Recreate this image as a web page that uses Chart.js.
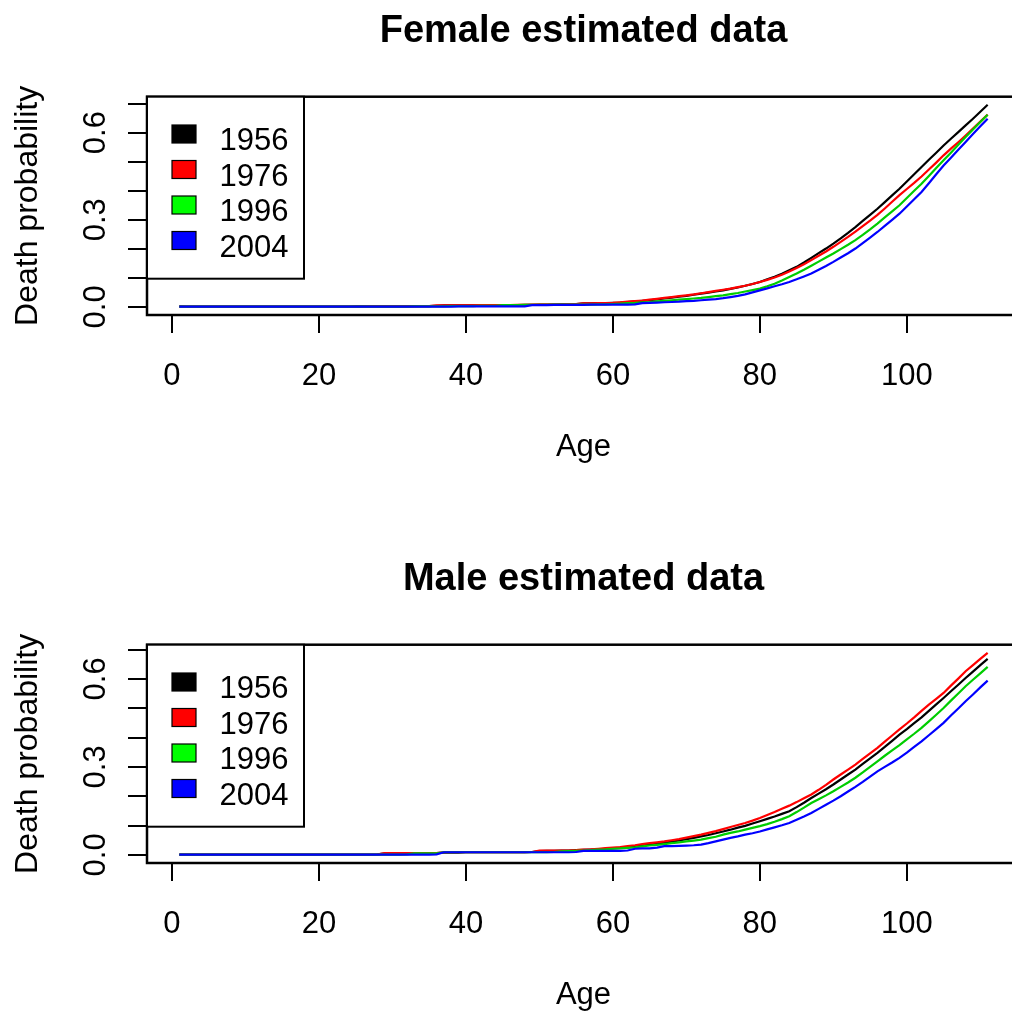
<!DOCTYPE html>
<html>
<head>
<meta charset="utf-8">
<title>Estimated death probabilities</title>
<script src="https://cdn.jsdelivr.net/npm/chart.js@4"></script>
<style>
  html, body { margin: 0; padding: 0; background: #fff; overflow: hidden; }
  #page { position: relative; width: 1012px; height: 1012px; overflow: hidden; }
  .panel { position: absolute; left: 0; width: 1022px; height: 470px; }
</style>
</head>
<body>
<div id="page">
  <div class="panel" style="top:0"><canvas id="female" width="1022" height="470"></canvas></div>
  <div class="panel" style="top:548px"><canvas id="male" width="1022" height="470"></canvas></div>
</div>
<script>
// years shown in each panel
const years = ['1956', '1976', '1996', '2004']

// death probability by age index 1..111 (ages 0..110)
const f1956 = [
  0.002,0.001,0.001,0.001,0.001,0.001,0.001,0.001,0.001,0.001,
  0.001,0.001,0.001,0.001,0.001,0.001,0.001,0.001,0.001,0.001,
  0.001,0.001,0.001,0.001,0.002,0.002,0.002,0.002,0.002,0.002,
  0.002,0.002,0.003,0.003,0.003,0.004,0.005,0.005,0.005,0.005,
  0.005,0.005,0.006,0.006,0.006,0.006,0.006,0.007,0.007,0.008,
  0.008,0.008,0.009,0.009,0.010,0.012,0.012,0.013,0.013,0.014,
  0.015,0.017,0.019,0.021,0.023,0.026,0.029,0.032,0.035,0.038,
  0.042,0.046,0.049,0.053,0.057,0.062,0.067,0.073,0.079,0.086,
  0.095,0.104,0.114,0.126,0.138,0.153,0.169,0.185,0.201,0.218,
  0.236,0.255,0.275,0.296,0.317,0.338,0.361,0.384,0.407,0.432,
  0.457,0.482,0.507,0.531,0.556,0.579,0.602,0.625,0.648,0.672,
  0.696
]
const f1976 = [
  0.001,0.001,0.001,0.001,0.001,0.001,0.001,0.001,0.001,0.001,
  0.001,0.001,0.001,0.001,0.001,0.001,0.001,0.001,0.001,0.001,
  0.001,0.001,0.001,0.001,0.001,0.001,0.002,0.002,0.002,0.002,
  0.002,0.002,0.002,0.003,0.003,0.005,0.005,0.005,0.005,0.005,
  0.005,0.006,0.006,0.006,0.006,0.006,0.007,0.007,0.008,0.008,
  0.008,0.009,0.009,0.010,0.010,0.012,0.012,0.013,0.013,0.014,
  0.016,0.018,0.020,0.022,0.025,0.028,0.031,0.034,0.037,0.040,
  0.043,0.047,0.051,0.055,0.059,0.063,0.068,0.073,0.079,0.086,
  0.093,0.101,0.111,0.122,0.134,0.147,0.161,0.176,0.191,0.207,
  0.224,0.241,0.259,0.278,0.297,0.317,0.339,0.362,0.385,0.406,
  0.427,0.449,0.473,0.497,0.522,0.545,0.567,0.590,0.614,0.638,
  0.662
]
const f1996 = [
  0.001,0.001,0.001,0.001,0.001,0.001,0.001,0.001,0.001,0.001,
  0.001,0.001,0.001,0.001,0.001,0.001,0.001,0.001,0.001,0.001,
  0.001,0.001,0.001,0.001,0.001,0.001,0.001,0.001,0.001,0.001,
  0.001,0.001,0.002,0.002,0.002,0.002,0.002,0.003,0.003,0.003,
  0.003,0.004,0.004,0.004,0.006,0.006,0.006,0.007,0.007,0.007,
  0.007,0.008,0.008,0.008,0.008,0.008,0.008,0.009,0.009,0.010,
  0.011,0.013,0.014,0.016,0.017,0.019,0.021,0.023,0.025,0.027,
  0.029,0.031,0.034,0.037,0.040,0.044,0.048,0.053,0.058,0.063,
  0.071,0.080,0.091,0.103,0.115,0.128,0.142,0.156,0.170,0.184,
  0.199,0.214,0.230,0.248,0.267,0.287,0.308,0.329,0.350,0.375,
  0.400,0.424,0.451,0.478,0.505,0.531,0.558,0.585,0.611,0.637,
  0.662
]
const f2004 = [
  0.001,0.001,0.001,0.001,0.001,0.001,0.001,0.001,0.001,0.001,
  0.001,0.001,0.001,0.001,0.001,0.001,0.001,0.001,0.001,0.001,
  0.001,0.001,0.001,0.001,0.001,0.001,0.001,0.001,0.001,0.001,
  0.001,0.001,0.001,0.001,0.001,0.001,0.001,0.001,0.002,0.002,
  0.002,0.002,0.002,0.002,0.002,0.002,0.002,0.002,0.006,0.006,
  0.006,0.007,0.007,0.007,0.007,0.007,0.008,0.008,0.008,0.008,
  0.008,0.008,0.009,0.013,0.014,0.015,0.016,0.017,0.018,0.020,
  0.021,0.023,0.025,0.027,0.030,0.034,0.038,0.043,0.050,0.057,
  0.064,0.071,0.078,0.086,0.095,0.105,0.115,0.128,0.141,0.155,
  0.170,0.185,0.201,0.220,0.239,0.258,0.279,0.300,0.321,0.346,
  0.371,0.396,0.426,0.457,0.487,0.514,0.541,0.568,0.595,0.622,
  0.648
]

const m1956 = [
  0.001,0.001,0.001,0.001,0.001,0.001,0.001,0.001,0.001,0.001,
  0.001,0.001,0.001,0.001,0.001,0.001,0.001,0.001,0.001,0.001,
  0.001,0.001,0.001,0.001,0.001,0.001,0.001,0.002,0.005,0.005,
  0.005,0.006,0.006,0.006,0.006,0.006,0.008,0.008,0.008,0.009,
  0.009,0.009,0.009,0.009,0.009,0.009,0.009,0.009,0.010,0.013,
  0.014,0.014,0.015,0.015,0.016,0.017,0.018,0.019,0.021,0.022,
  0.024,0.026,0.029,0.032,0.035,0.038,0.042,0.045,0.049,0.054,
  0.058,0.063,0.068,0.074,0.080,0.086,0.093,0.099,0.107,0.115,
  0.123,0.131,0.140,0.149,0.163,0.178,0.194,0.209,0.224,0.240,
  0.257,0.274,0.291,0.310,0.329,0.348,0.368,0.389,0.410,0.429,
  0.449,0.469,0.491,0.513,0.535,0.558,0.580,0.603,0.625,0.647,
  0.668
]
const m1976 = [
  0.001,0.001,0.001,0.001,0.001,0.001,0.001,0.001,0.001,0.001,
  0.001,0.001,0.001,0.001,0.001,0.001,0.001,0.001,0.001,0.001,
  0.001,0.001,0.001,0.001,0.001,0.001,0.001,0.002,0.006,0.006,
  0.006,0.006,0.006,0.006,0.006,0.006,0.009,0.009,0.009,0.009,
  0.009,0.009,0.009,0.009,0.009,0.009,0.009,0.009,0.010,0.015,
  0.015,0.015,0.015,0.015,0.016,0.018,0.019,0.021,0.023,0.025,
  0.027,0.030,0.033,0.037,0.040,0.043,0.046,0.050,0.054,0.059,
  0.064,0.069,0.075,0.081,0.088,0.095,0.102,0.109,0.117,0.126,
  0.136,0.146,0.157,0.168,0.180,0.193,0.206,0.222,0.239,0.257,
  0.274,0.291,0.308,0.327,0.346,0.365,0.386,0.407,0.428,0.448,
  0.469,0.491,0.512,0.532,0.552,0.577,0.601,0.626,0.647,0.668,
  0.689
]
const m1996 = [
  0.001,0.001,0.001,0.001,0.001,0.001,0.001,0.001,0.001,0.001,
  0.001,0.001,0.001,0.001,0.001,0.001,0.001,0.001,0.001,0.001,
  0.001,0.001,0.001,0.001,0.001,0.001,0.001,0.001,0.001,0.001,
  0.001,0.002,0.005,0.005,0.005,0.005,0.009,0.009,0.009,0.009,
  0.009,0.009,0.009,0.009,0.009,0.009,0.009,0.009,0.009,0.009,
  0.009,0.010,0.012,0.013,0.014,0.015,0.016,0.018,0.019,0.021,
  0.022,0.024,0.026,0.029,0.032,0.034,0.037,0.040,0.043,0.046,
  0.049,0.052,0.057,0.062,0.069,0.075,0.080,0.086,0.092,0.098,
  0.105,0.113,0.122,0.132,0.146,0.161,0.177,0.190,0.203,0.217,
  0.232,0.247,0.263,0.281,0.300,0.319,0.338,0.356,0.374,0.394,
  0.413,0.433,0.455,0.478,0.501,0.526,0.550,0.575,0.597,0.619,
  0.641
]
const m2004 = [
  0.001,0.001,0.001,0.001,0.001,0.001,0.001,0.001,0.001,0.001,
  0.001,0.001,0.001,0.001,0.001,0.001,0.001,0.001,0.001,0.001,
  0.001,0.001,0.001,0.001,0.001,0.001,0.001,0.001,0.001,0.001,
  0.001,0.001,0.001,0.001,0.001,0.002,0.009,0.009,0.009,0.009,
  0.009,0.009,0.009,0.009,0.009,0.009,0.009,0.009,0.009,0.009,
  0.009,0.009,0.009,0.009,0.010,0.014,0.014,0.014,0.014,0.014,
  0.014,0.015,0.021,0.022,0.022,0.025,0.030,0.030,0.031,0.032,
  0.033,0.035,0.040,0.046,0.052,0.058,0.063,0.069,0.074,0.080,
  0.087,0.094,0.101,0.109,0.120,0.131,0.143,0.157,0.171,0.185,
  0.200,0.216,0.232,0.249,0.267,0.285,0.300,0.315,0.331,0.349,
  0.368,0.387,0.408,0.429,0.450,0.475,0.499,0.524,0.547,0.571,
  0.594
]

// axis ticks
const xTicks = [0, 20, 40, 60, 80, 100]
const yTicks = [0, 0.1, 0.2, 0.3, 0.4, 0.5, 0.6, 0.7]
const yLabelled = [0, 0.3, 0.6]

const lineColors = ['#000000', '#FF0000', '#00CD00', '#0000FF']
const legendFill = ['#000000', '#FF0000', '#00FF00', '#0000FF']

const FAMILY = '"Liberation Sans", Arial, Helvetica, sans-serif'
const axisFont = { family: FAMILY, size: 31, lineHeight: 1.2 }

// plot frame around the chart area
const frameBox = {
  id: 'frameBox',
  afterDatasetsDraw(chart) {
    const { ctx, chartArea: a } = chart
    ctx.save()
    ctx.strokeStyle = '#000'
    ctx.lineWidth = 2.5
    ctx.strokeRect(a.left, a.top, a.right - a.left, a.bottom - a.top)
    ctx.restore()
  }
}

// boxed legend in the top-left corner of the plot
const boxLegend = {
  id: 'boxLegend',
  afterDraw(chart) {
    const { ctx, chartArea: a } = chart
    ctx.save()
    ctx.fillStyle = '#fff'
    ctx.fillRect(a.left, a.top, 157, 182)
    ctx.strokeStyle = '#000'
    ctx.lineWidth = 2
    ctx.strokeRect(a.left, a.top, 157, 182)
    ctx.font = '31px ' + FAMILY
    ctx.textBaseline = 'alphabetic'
    ctx.textAlign = 'left'
    chart.data.datasets.forEach((ds, i) => {
      const y0 = a.top + 28.3 + i * 35.5
      ctx.fillStyle = legendFill[i]
      ctx.fillRect(a.left + 25, y0, 24, 18)
      ctx.lineWidth = 1.2
      ctx.strokeRect(a.left + 25, y0, 24, 18)
      ctx.fillStyle = '#000'
      ctx.fillText(ds.label, a.left + 72.5, y0 + 25)
    })
    ctx.restore()
  }
}

function makePanel(id, title, series) {
  const n = series[0].length
  const idx = Array.from({ length: n }, (_, i) => i + 1)
  // same padding as R's default axis extension (4%)
  const top = Math.max(...series.map(s => Math.max(...s)))
  const yMin = -0.04 * top
  const yMax = 1.04 * top
  const xMin = 1 - 0.04 * (n - 1)
  const xMax = n + 0.04 * (n - 1)

  const datasets = series.map((s, i) => ({
    label: years[i],
    data: s.map((v, j) => ({ x: idx[j], y: v })),
    borderColor: lineColors[i],
    borderWidth: 2.2,
    pointRadius: 0,
    tension: 0,
    fill: false,
    order: series.length - i
  }))

  return new Chart(document.getElementById(id), {
    type: 'line',
    data: { datasets },
    plugins: [frameBox, boxLegend],
    options: {
      responsive: false,
      animation: false,
      layout: { padding: { left: 0, right: 2, top: 0, bottom: 0 } },
      scales: {
        x: {
          type: 'linear',
          min: xMin,
          max: xMax,
          afterBuildTicks: s => { s.ticks = xTicks.map(v => ({ value: v })) },
          afterFit: s => { s.height = 155 },
          border: { display: false },
          grid: { drawOnChartArea: false, tickLength: 18, color: '#000', lineWidth: 2 },
          ticks: { autoSkip: false, maxRotation: 0, padding: 24.5, color: '#000', font: axisFont,
                   callback: v => String(v) },
          title: { display: true, text: 'Age', color: '#000', font: axisFont, padding: { top: 0, bottom: 3.5 } }
        },
        y: {
          type: 'linear',
          min: yMin,
          max: yMax,
          afterBuildTicks: s => { s.ticks = yTicks.map(v => ({ value: v })) },
          afterFit: s => { s.width = 147 },
          border: { display: false },
          grid: { drawOnChartArea: false, tickLength: 19, color: '#000', lineWidth: 2 },
          ticks: { autoSkip: false, minRotation: 90, maxRotation: 90, crossAlign: 'center', padding: 10,
                   color: '#000', font: axisFont,
                   callback: v => yLabelled.includes(v) ? v.toFixed(1) : '' },
          title: { display: true, text: 'Death probability', color: '#000',
                   font: { family: FAMILY, size: 32, lineHeight: 1.2 },
                   padding: { top: 8.5, bottom: 0 } }
        }
      },
      plugins: {
        legend: { display: false },
        tooltip: { enabled: false },
        title: {
          display: true,
          fullSize: false,
          text: title,
          color: '#000',
          font: { family: FAMILY, size: 38, weight: 'bold', lineHeight: 1.2 },
          padding: { top: 9, bottom: 42.1 }
        }
      }
    }
  })
}

makePanel('female', 'Female estimated data', [f1956, f1976, f1996, f2004])
makePanel('male', 'Male estimated data', [m1956, m1976, m1996, m2004])
</script>
</body>
</html>
